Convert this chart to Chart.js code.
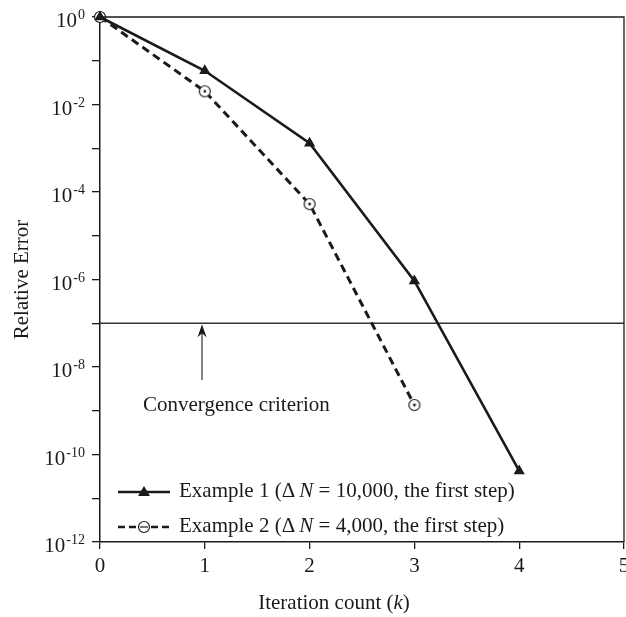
<!DOCTYPE html>
<html>
<head>
<meta charset="utf-8">
<script src="https://cdn.jsdelivr.net/npm/chart.js@4/dist/chart.umd.min.js"></script>
<style>
  html, body { margin: 0; padding: 0; background: #fff; }
  #wrap { width: 626px; height: 617px; position: relative; }
</style>
</head>
<body>
<div id="wrap"><canvas id="myChart"></canvas></div>
<script>
// values
const iterations = [0, 1, 2, 3, 4];
const example1Error = [1, 0.059, 1.3e-3, 9.3e-7, 4.2e-11];
const example2Iterations = [0, 1, 2, 3];
const example2Error = [1, 2.0e-2, 5.3e-5, 1.35e-9];
const criterion = 1e-7;
const criterionRange = [0, 5];
const xTicks = [0, 1, 2, 3, 4, 5];
const yExponents = [0, -1, -2, -3, -4, -5, -6, -7, -8, -9, -10, -11, -12];
const yLabelExponents = [0, -2, -4, -6, -8, -10, -12];

const SERIF = '"Liberation Serif", "DejaVu Serif", serif';
const INK = '#1a1a1a';

// open circle with a dot, used for example 2
function dotCircle() {
    const c = document.createElement('canvas');
    c.width = 16; c.height = 16;
    const g = c.getContext('2d');
    g.beginPath();
    g.arc(8, 8, 5.5, 0, Math.PI * 2);
    g.fillStyle = '#fff';
    g.fill();
    g.lineWidth = 1.2;
    g.strokeStyle = INK;
    g.stroke();
    g.beginPath();
    g.arc(8, 8, 1.4, 0, Math.PI * 2);
    g.fillStyle = INK;
    g.fill();
    return c;
}

const pts = (xs, ys) => xs.map((x, i) => ({x: x, y: ys[i]}));

// draws the text bits chart.js can't do (superscripts, italics, arrow, legend, frame)
const extras = {
    id: 'extras',
    afterDraw(chart) {
        const ctx = chart.ctx;
        const xs = chart.scales.x, ys = chart.scales.y;
        const area = chart.chartArea;
        ctx.save();

        // top and right frame
        ctx.strokeStyle = INK;
        ctx.lineWidth = 1.3;
        ctx.beginPath();
        ctx.moveTo(area.left, area.top);
        ctx.lineTo(area.right, area.top);
        ctx.lineTo(area.right, area.bottom);
        ctx.stroke();

        // y tick labels 10^n
        ctx.fillStyle = INK;
        ctx.textAlign = 'right';
        ctx.textBaseline = 'alphabetic';
        yLabelExponents.forEach(e => {
            const y = ys.getPixelForValue(Math.pow(10, e));
            const sup = String(e);
            ctx.font = '14px ' + SERIF;
            const w = ctx.measureText(sup).width;
            ctx.fillText(sup, 85, y + 2);
            ctx.font = '21px ' + SERIF;
            ctx.fillText('10', 85 - w - 1, y + 10);
        });

        // x axis title with italic k
        const parts = [['Iteration count (', ''], ['k', 'italic '], [')', '']];
        let total = 0;
        parts.forEach(p => { ctx.font = p[1] + '21px ' + SERIF; total += ctx.measureText(p[0]).width; });
        let tx = 334 - total / 2;
        ctx.textAlign = 'left';
        parts.forEach(p => {
            ctx.font = p[1] + '21px ' + SERIF;
            ctx.fillText(p[0], tx, 609);
            tx += ctx.measureText(p[0]).width;
        });

        // arrow pointing at the criterion line
        const ay = ys.getPixelForValue(criterion);
        const ax = 202;
        ctx.strokeStyle = '#333';
        ctx.lineWidth = 1.2;
        ctx.beginPath();
        ctx.moveTo(ax, 380);
        ctx.lineTo(ax, ay + 6);
        ctx.stroke();
        ctx.fillStyle = INK;
        ctx.beginPath();
        ctx.moveTo(ax, ay + 1);
        ctx.lineTo(ax - 4.5, ay + 14);
        ctx.lineTo(ax, ay + 10);
        ctx.lineTo(ax + 4.5, ay + 14);
        ctx.closePath();
        ctx.fill();

        ctx.font = '21px ' + SERIF;
        ctx.textAlign = 'left';
        ctx.fillText('Convergence criterion', 143, 411);

        // legend
        const rows = [
            {y: 492, dash: [], label: ['Example 1 (\u0394\u2009', 'N', ' = 10,000, the first step)']},
            {y: 527, dash: [7, 4], label: ['Example 2 (\u0394\u2009', 'N', ' = 4,000, the first step)']}
        ];
        rows.forEach((r, i) => {
            ctx.strokeStyle = INK;
            ctx.lineWidth = 2.6;
            ctx.setLineDash(r.dash);
            ctx.beginPath();
            ctx.moveTo(118, r.y);
            ctx.lineTo(170, r.y);
            ctx.stroke();
            ctx.setLineDash([]);
            if (i === 0) {
                ctx.fillStyle = INK;
                ctx.beginPath();
                ctx.moveTo(144, r.y - 6);
                ctx.lineTo(150, r.y + 4);
                ctx.lineTo(138, r.y + 4);
                ctx.closePath();
                ctx.fill();
            } else {
                ctx.fillStyle = '#fff';
                ctx.beginPath();
                ctx.arc(144, r.y, 5.5, 0, Math.PI * 2);
                ctx.fill();
                ctx.lineWidth = 1.2;
                ctx.stroke();
                ctx.beginPath();
                ctx.moveTo(140, r.y);
                ctx.lineTo(148, r.y);
                ctx.stroke();
            }
            ctx.fillStyle = INK;
            let lx = 179;
            r.label.forEach((t, j) => {
                ctx.font = (j === 1 ? 'italic ' : '') + '21px ' + SERIF;
                ctx.fillText(t, lx, r.y + 5);
                lx += ctx.measureText(t).width;
            });
        });

        ctx.restore();
    }
};

var context = document.getElementById("myChart");
var myChart = new Chart(context, {
    type: 'line',
    data: {
        datasets: [{
            label: 'Example 1 (\u0394N = 10,000, the first step)',
            data: pts(iterations, example1Error),
            borderColor: INK,
            backgroundColor: INK,
            borderWidth: 2.6,
            pointStyle: 'triangle',
            pointRadius: 6.5,
            pointBorderWidth: 0,
            clip: false
        }, {
            label: 'Example 2 (\u0394N = 4,000, the first step)',
            data: pts(example2Iterations, example2Error),
            borderColor: INK,
            borderWidth: 3,
            borderDash: [8, 5],
            pointStyle: dotCircle(),
            clip: false
        }, {
            label: 'Convergence criterion',
            data: pts(criterionRange, [criterion, criterion]),
            borderColor: '#333',
            borderWidth: 1.3,
            pointRadius: 0
        }]
    },
    options: {
        responsive: true,
        maintainAspectRatio: false,
        animation: false,
        events: [],
        layout: { autoPadding: false, padding: { top: 17, right: 2, left: 0, bottom: 0 } },
        plugins: { legend: { display: false }, tooltip: { enabled: false } },
        scales: {
            x: {
                type: 'linear',
                min: 0,
                max: 5,
                afterBuildTicks: s => { s.ticks = xTicks.map(v => ({value: v})); },
                afterFit: s => { s.height = 75; s.paddingLeft = 0; s.paddingRight = 0; },
                ticks: {
                    color: INK,
                    font: { family: SERIF, size: 21 },
                    padding: 5,
                    maxRotation: 0
                },
                grid: { drawOnChartArea: false, tickLength: 7, color: INK, lineWidth: 1.3 },
                border: { color: INK, width: 1.5 }
            },
            y: {
                type: 'logarithmic',
                min: 1e-12,
                max: 1,
                afterBuildTicks: s => { s.ticks = yExponents.map(e => ({value: Math.pow(10, e)})); },
                afterFit: s => { s.width = 100; s.paddingTop = 0; s.paddingBottom = 0; },
                ticks: { callback: () => '' },
                grid: { drawOnChartArea: false, tickLength: 8, color: INK, lineWidth: 1.3 },
                border: { color: INK, width: 1.5 },
                title: {
                    display: true,
                    text: 'Relative Error',
                    color: INK,
                    font: { family: SERIF, size: 21 },
                    padding: { top: 10 }
                }
            }
        }
    },
    plugins: [extras]
});
</script>
</body>
</html>
